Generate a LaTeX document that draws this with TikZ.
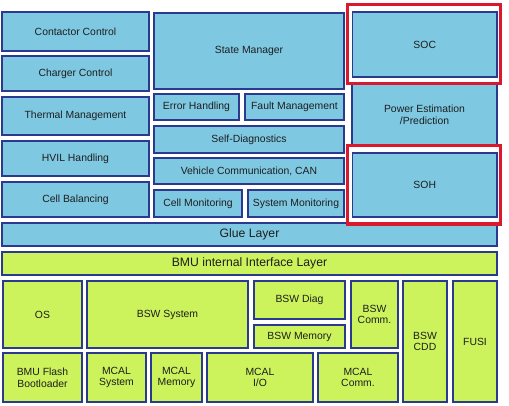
\documentclass[tikz,border=0pt]{standalone}
\usepackage{fontspec}
\setmainfont{Liberation Sans}
\definecolor{bfill}{HTML}{7EC8E2}
\definecolor{gfill}{HTML}{CCF25C}
\definecolor{bline}{HTML}{2B3A8E}
\definecolor{rline}{HTML}{D8192E}
\definecolor{txt}{HTML}{1E1E1E}
\tikzset{
  boxbase/.style={draw=bline, line width=1.1pt, inner sep=1pt, align=center, text=txt, font=\fontsize{10.4}{11.8}\selectfont},
  bluebox/.style={boxbase, fill=bfill},
  greenbox/.style={boxbase, fill=gfill},
  bigtext/.style={font=\fontsize{12.2}{14}\selectfont},
  redframe/.style={draw=rline, line width=3.2pt, fill=white, inner sep=0pt}
}
\newcommand\mybox[7]{%
  \node[#6, minimum width={(#4-#2)*1pt}, minimum height={(#5-#3)*1pt}] (#1) at ({(#2+#4)/2},{(#3+#5)/2}) {#7};}
\begin{document}
\begin{tikzpicture}[x=1pt,y=-1pt]
\useasboundingbox (0,0) rectangle (509,406);
% left column
\mybox{cc}{2}{12}{149}{51}{bluebox}{Contactor Control}
\mybox{chg}{2}{56}{149}{91}{bluebox}{Charger Control}
\mybox{thm}{2}{97}{149}{135}{bluebox}{Thermal Management}
\mybox{hvil}{2}{141}{149}{176}{bluebox}{HVIL Handling}
\mybox{cb}{2}{182}{149}{217}{bluebox}{Cell Balancing}
% middle column
\mybox{sm}{154}{13}{344}{89}{bluebox}{State Manager}
\mybox{eh}{154}{94}{239}{120}{bluebox}{Error Handling}
\mybox{fm}{245}{94}{344}{120}{bluebox}{Fault Management}
\mybox{sd}{154}{126}{344}{153}{bluebox}{Self-Diagnostics}
\mybox{vc}{154}{158}{344}{184}{bluebox}{Vehicle Communication, CAN}
\mybox{cm}{154}{190}{242}{217}{bluebox}{Cell Monitoring}
\mybox{sysm}{248}{190}{344}{217}{bluebox}{System Monitoring}
% right column
\mybox{pe}{352}{80}{497}{150}{bluebox}{Power Estimation\\/Prediction}
\mybox{glue}{2}{223}{497}{246}{bluebox,bigtext}{Glue Layer}
\mybox{rsoc}{347.5}{4.5}{500.5}{83.5}{redframe}{}
\mybox{rsoh}{347.5}{145.5}{500.5}{224}{redframe}{}
\mybox{soc}{352.5}{12}{497}{77}{bluebox}{SOC}
\mybox{soh}{352.5}{153}{497}{217}{bluebox}{SOH}
% lower layers
\mybox{bmu}{2}{252}{497}{275}{greenbox,bigtext}{BMU internal Interface Layer}
\mybox{os}{3}{281}{82}{348}{greenbox}{OS}
\mybox{bsws}{87}{281}{248}{348}{greenbox}{BSW System}
\mybox{bswd}{254}{281}{345}{319}{greenbox}{BSW Diag}
\mybox{bswm}{254}{325}{345}{348}{greenbox}{BSW Memory}
\mybox{bswc}{351}{281}{398}{348}{greenbox}{BSW\\Comm.}
\mybox{cdd}{403}{281}{447}{402}{greenbox}{BSW\\CDD}
\mybox{fusi}{453}{281}{497}{402}{greenbox}{FUSI}
\mybox{boot}{3}{353}{82}{402}{greenbox}{BMU Flash\\Bootloader}
\mybox{mcs}{87}{353}{146}{402}{greenbox}{MCAL\\System}
\mybox{mcm}{151}{353}{202}{402}{greenbox}{MCAL\\Memory}
\mybox{mci}{207}{353}{313}{402}{greenbox}{MCAL\\I/O}
\mybox{mcc}{318}{353}{398}{402}{greenbox}{MCAL\\Comm.}
\end{tikzpicture}
\end{document}
